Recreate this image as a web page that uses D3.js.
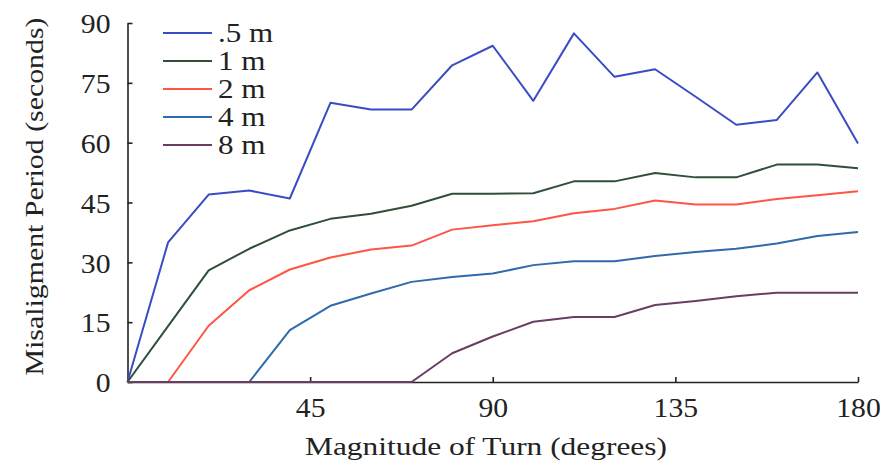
<!DOCTYPE html>
<html>
<head>
<meta charset="utf-8">
<script src="https://cdn.jsdelivr.net/npm/d3@7.9.0/dist/d3.min.js"></script>
<style>
  body { margin: 0; background: #fff; }
  svg text { font-family: "Liberation Serif", "DejaVu Serif", serif; fill: #222; }
</style>
</head>
<body>
<svg id="chart" width="885" height="466"></svg>
<script>
// turn magnitude in degrees
const turns = [0, 10, 20, 30, 40, 50, 60, 70, 80, 90, 100, 110, 120, 130, 140, 150, 160, 170, 180];

// misalignment period (seconds) for each distance
const half_m  = [0, 35, 47, 48, 46, 70, 68.3, 68.3, 79.4, 84.3, 70.5, 87.4, 76.5, 78.4, 71.5, 64.5, 65.7, 77.6, 59.8];
const one_m   = [0, 14, 28, 33.4, 38, 40.9, 42.2, 44.2, 47.2, 47.2, 47.3, 50.3, 50.3, 52.4, 51.3, 51.3, 54.5, 54.5, 53.6];
const two_m   = [0, 0, 14.1, 23, 28.2, 31.2, 33.2, 34.2, 38.2, 39.3, 40.3, 42.3, 43.4, 45.5, 44.5, 44.5, 45.9, 46.8, 47.8];
const four_m  = [0, 0, 0, 0, 13, 19.1, 22.2, 25.1, 26.3, 27.2, 29.3, 30.3, 30.3, 31.6, 32.6, 33.4, 34.7, 36.6, 37.6];
const eight_m = [0, 0, 0, 0, 0, 0, 0, 0, 7.2, 11.4, 15.1, 16.3, 16.3, 19.3, 20.3, 21.5, 22.4, 22.4, 22.4];

const seriesNames = ['.5 m', '1 m', '2 m', '4 m', '8 m'];
const seriesValues = [half_m, one_m, two_m, four_m, eight_m];
const colors = ['#3a4cc4', '#2f4f38', '#ff5544', '#2f6aab', '#6a3d62'];

const xTicks = [45, 90, 135, 180];
const yTicks = [0, 15, 30, 45, 60, 75, 90];

const svg = d3.select('#chart');
const margin = { left: 127.5, right: 27, top: 23, bottom: 84 };
const width = 885, height = 466;

const x = d3.scaleLinear().domain([0, 180]).range([margin.left, width - margin.right]);
const y = d3.scaleLinear().domain([0, 90]).range([height - margin.bottom, margin.top]);

// widen the serif glyphs a bit, the original font is broader than Times
function stretch(sel, k) {
  sel.each(function () {
    let w = this.getComputedTextLength();
    d3.select(this).attr('textLength', w * k).attr('lengthAdjust', 'spacingAndGlyphs');
  });
}

// axes with inward ticks
let xAxis = svg.append('g')
  .attr('transform', `translate(0,${y(0)})`)
  .call(d3.axisBottom(x).tickValues(xTicks).tickSizeInner(-5).tickSizeOuter(0).tickPadding(16));
let yAxis = svg.append('g')
  .attr('transform', `translate(${x(0)},0)`)
  .call(d3.axisLeft(y).tickValues(yTicks).tickSizeInner(-5).tickSizeOuter(0).tickPadding(17));

[xAxis, yAxis].forEach(g => {
  g.select('.domain').attr('stroke', '#222').attr('stroke-width', 1.6);
  g.selectAll('.tick line').attr('stroke', '#222').attr('stroke-width', 1.6);
  g.selectAll('.tick text').attr('font-size', 27).attr('fill', '#222')
    .style('font-family', '"Liberation Serif", serif');
  stretch(g.selectAll('.tick text'), 1.1);
});
yAxis.selectAll('.tick text').attr('dy', '0.36em');

let line = d3.line()
  .x((d, i) => x(turns[i]))
  .y(d => y(d));

seriesValues.forEach((vals, idx) => {
  svg.append('path')
    .datum(vals)
    .attr('d', line)
    .attr('fill', 'none')
    .attr('stroke', colors[idx])
    .attr('stroke-width', 2)
    .attr('stroke-linejoin', 'round');
});

// legend
let legend = svg.append('g').attr('class', 'legend');
seriesNames.forEach((name, idx) => {
  let ly = 33 + idx * 28;
  legend.append('line')
    .attr('x1', 163).attr('x2', 212)
    .attr('y1', ly).attr('y2', ly)
    .attr('stroke', colors[idx]).attr('stroke-width', 2);
  legend.append('text')
    .attr('x', 218).attr('y', ly)
    .attr('dy', '0.35em')
    .attr('font-size', 27)
    .text(name);
});
stretch(legend.selectAll('text'), 1.15);

// axis titles
svg.append('text')
  .attr('x', 486)
  .attr('y', 455)
  .attr('text-anchor', 'middle')
  .attr('font-size', 26)
  .attr('textLength', 362)
  .attr('lengthAdjust', 'spacingAndGlyphs')
  .text('Magnitude of Turn (degrees)');

svg.append('text')
  .attr('transform', `translate(43,${(y(0) + y(90)) / 2 - 6}) rotate(-90)`)
  .attr('text-anchor', 'middle')
  .attr('font-size', 26)
  .attr('textLength', 358)
  .attr('lengthAdjust', 'spacingAndGlyphs')
  .text('Misaligment Period (seconds)');
</script>
</body>
</html>
